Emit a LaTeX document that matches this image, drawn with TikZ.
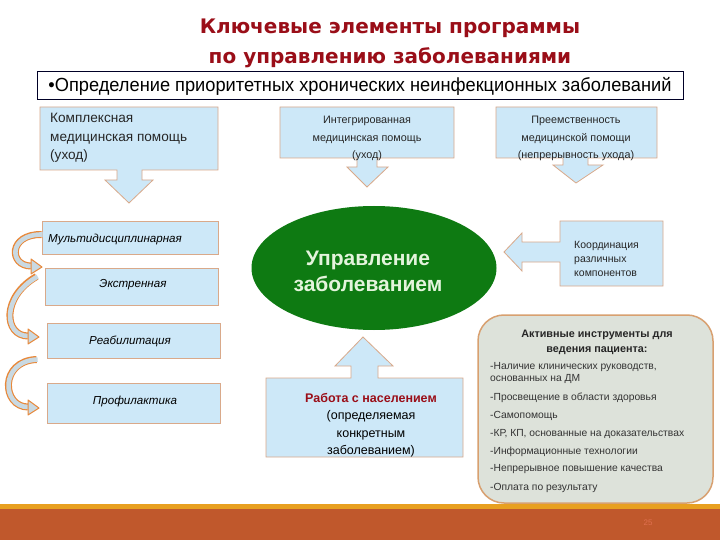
\documentclass[tikz,border=0pt]{standalone}
\usepackage{fontspec}
\setmainfont{Liberation Sans}
\newfontfamily\titlefont{DejaVu Sans}
\usetikzlibrary{shapes.geometric,calc}
\definecolor{boxfill}{HTML}{CDE8F8}
\definecolor{boxline}{HTML}{D9A98A}
\definecolor{titlered}{HTML}{9A0E18}
\definecolor{ellgreen}{HTML}{0E7A12}
\definecolor{ellfont}{HTML}{E4F4DC}
\definecolor{actfill}{HTML}{DDE2DA}
\definecolor{actline}{HTML}{D8A070}
\definecolor{barorange}{HTML}{E8A020}
\definecolor{barred}{HTML}{C0582C}
\definecolor{arrline}{HTML}{E8883A}
\definecolor{arrfill}{HTML}{C9D9E2}
\definecolor{pagenum}{HTML}{E07050}
\tikzset{
  callout/.style={fill=boxfill,draw=boxline,line width=0.8pt},
  plainbox/.style={fill=boxfill,draw=boxline,line width=0.8pt,inner sep=0pt},
  txt/.style={inner sep=0pt,align=left,font=\fontsize{13.6}{18.5}\selectfont,text=black!85},
  ctxt/.style={inner sep=0pt,align=center,font=\fontsize{10.8}{17.5}\selectfont,text=black!85},
  itxt/.style={inner sep=0pt,font=\fontsize{11.6}{13}\selectfont\itshape},
  bandout/.style={line width=7pt,draw=arrline},
  bandin/.style={line width=4.6pt,draw=arrfill},
  headtri/.style={fill=arrfill,draw=arrline,line width=1pt,line join=round},
  item/.style={inner sep=0pt,anchor=west,font=\fontsize{10.3}{12.5}\selectfont,text=black!80}
}
\begin{document}
\begin{tikzpicture}[x=1pt,y=-1pt]
\useasboundingbox (0,0) rectangle (720,540);
\fill[white] (0,0) rectangle (720,540);
% bottom bars
\fill[barorange] (0,504) rectangle (720,509);
\fill[barred] (0,509) rectangle (720,540);
\node[inner sep=0pt,text=pagenum,font=\fontsize{8}{9}\selectfont] (pg) at (648,523) {25};
% title
\node[inner sep=0pt,text=titlered,align=center,font=\titlefont\bfseries\fontsize{20}{30}\selectfont] (title) at (390,43) {Ключевые элементы программы\\по управлению заболеваниями};
% banner
\node[draw=black!85!blue,line width=1pt,fill=white,minimum width=646pt,minimum height=28pt,inner sep=0pt,font=\fontsize{19}{20}\selectfont] (banner) at (360,86) {\scalebox{0.96}[1]{•Определение приоритетных хронических неинфекционных заболеваний}};
% callout 1
\draw[callout] (40,107) -- (218,107) -- (218,170) -- (142,170) -- (142,180) -- (153,180) -- (129,203) -- (105,180) -- (117,180) -- (117,170) -- (40,170) -- cycle;
\node[txt,anchor=north west] (c1) at (50,113) {Комплексная\\медицинская помощь\\(уход)};
% callout 2
\draw[callout] (280,107) -- (454,107) -- (454,158) -- (377,158) -- (377,167) -- (388,167) -- (367,187) -- (347,167) -- (357,167) -- (357,158) -- (280,158) -- cycle;
\node[ctxt,anchor=north] (c2) at (367,116) {Интегрированная\\медицинская помощь\\(уход)};
% callout 3
\draw[callout] (496,107) -- (657,107) -- (657,158) -- (588,158) -- (588,165) -- (603,165) -- (576,183) -- (553,165) -- (563,165) -- (563,158) -- (496,158) -- cycle;
\node[ctxt,anchor=north] (c3) at (576,116) {Преемственность\\медицинской помощи\\(непрерывность ухода)};
% left column
\node[plainbox,minimum width=176pt,minimum height=33pt] (m) at (130,237.5) {};
\node[itxt,anchor=west] (mt) at (48,239) {Мультидисциплинарная};
\node[plainbox,minimum width=173pt,minimum height=37pt] (e) at (131.5,286.5) {};
\node[itxt] (et) at (133,285) {Экстренная};
\node[plainbox,minimum width=173pt,minimum height=35pt] (r) at (133.5,340.5) {};
\node[itxt] (rt) at (130,341) {Реабилитация};
\node[plainbox,minimum width=173pt,minimum height=40pt] (p) at (133.5,403) {};
\node[itxt] (pt) at (135,401) {Профилактика};
% curved arrows
\coordinate (a1s) at ($(m.west)+(0,-3)$);
\coordinate (a1e) at (31,266);
\draw[bandout] (a1s) .. controls (8,234) and (9,266) .. (a1e);
\draw[bandin] ($(a1s)+(1,0)$) .. controls (8,234) and (9,266) .. (a1e);
\draw[headtri] (31,259) -- (42,267) -- (31,274) -- cycle;
\coordinate (a2s) at ($(e.west)+(-8,-10)$);
\coordinate (a2e) at (28,336);
\draw[bandout] (a2s) .. controls (1,297) and (4,336) .. (a2e);
\draw[bandin] ($(a2s)+(1,0)$) .. controls (1,297) and (4,336) .. (a2e);
\draw[headtri] (28,329) -- (39,337) -- (28,344) -- cycle;
\coordinate (a3s) at ($(r.west)+(-10,19)$);
\coordinate (a3e) at (28,407);
\draw[bandout] (a3s) .. controls (-1,361) and (2,407) .. (a3e);
\draw[bandin] ($(a3s)+(1,0)$) .. controls (-1,361) and (2,407) .. (a3e);
\draw[headtri] (28,400) -- (39,408) -- (28,415) -- cycle;
% ellipse
\node[ellipse,fill=ellgreen,minimum width=245pt,minimum height=124pt,inner sep=0pt] (ell) at (374,268) {};
\node[inner sep=0pt,align=center,text=ellfont,font=\bfseries\fontsize{21}{26}\selectfont] (ellt) at (368,271) {Управление\\заболеванием};
% coordination box with left arrow
\draw[callout] (560,221) -- (663,221) -- (663,286) -- (560,286) -- (560,262) -- (522,262) -- (522,271) -- (504,252) -- (522,233) -- (522,242) -- (560,242) -- cycle;
\node[inner sep=0pt,align=left,anchor=north west,font=\fontsize{10.5}{14}\selectfont,text=black!85] (coord) at (574,241) {Координация\\различных\\компонентов};
% work with population
\draw[callout] (266,378) -- (351,378) -- (351,366) -- (335,366) -- (363,337) -- (393,366) -- (378,366) -- (378,378) -- (463,378) -- (463,457) -- (266,457) -- cycle;
\node[inner sep=0pt,align=center,anchor=north,font=\fontsize{12.5}{17.5}\selectfont] (work) at (371,393) {\textcolor{titlered}{\bfseries Работа с населением}\\(определяемая\\конкретным\\заболеванием)};
% active tools
\node[draw=actline,fill=actfill,line width=1.5pt,rounded corners=26pt,minimum width=235pt,minimum height=188pt,inner sep=0pt] (act) at (595.5,409) {};
\node[inner sep=0pt,align=center,font=\bfseries\fontsize{10.8}{15}\selectfont,text=black!85] (acth) at (597,342) {Активные инструменты для\\ведения пациента:};
\node[item,align=left,anchor=north west] (i1) at (490,362) {-Наличие клинических руководств,\\основанных на ДМ};
\node[item] (i2) at (490,398) {-Просвещение в области здоровья};
\node[item] (i3) at (490,416) {-Самопомощь};
\node[item] (i4) at (490,434) {-КР, КП, основанные на доказательствах};
\node[item] (i5) at (490,452) {-Информационные технологии};
\node[item] (i6) at (490,469) {-Непрерывное повышение качества};
\node[item] (i7) at (490,488) {-Оплата по результату};
\end{tikzpicture}
\end{document}
